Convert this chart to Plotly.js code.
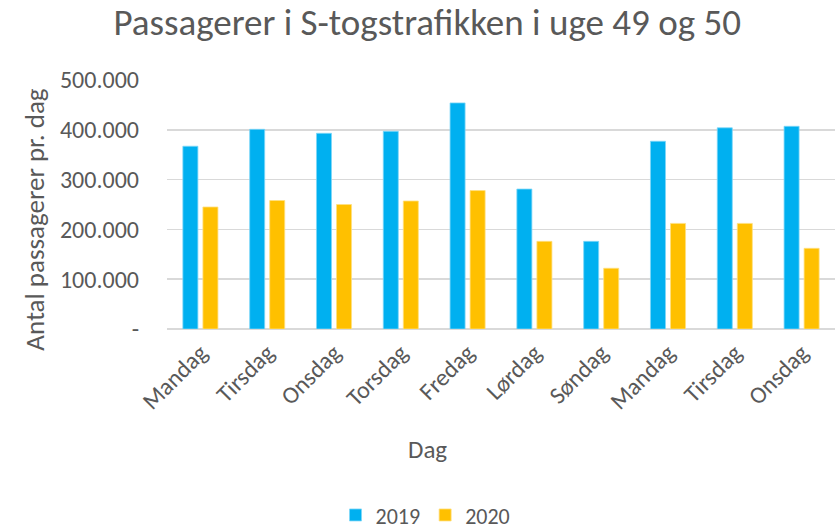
<!DOCTYPE html>
<html><head><meta charset="utf-8">
<script src="https://cdn.plot.ly/plotly-3.0.1.min.js"></script>
<style>html,body{margin:0;padding:0;background:#fff}#chart{width:836px;height:530px}</style>
</head><body><div id="chart"></div>
<script>
const days = ["Mandag","Tirsdag","Onsdag","Torsdag","Fredag","Lørdag","Søndag","Mandag","Tirsdag","Onsdag"];
const v2019 = [367000,401000,393000,397000,454000,281000,176000,377000,404000,407000];
const v2020 = [245000,258000,250000,257000,278000,176000,122000,212000,212000,162000];
const yTickVals = [0,100000,200000,300000,400000,500000];
const yTickText = ["-","100.000","200.000","300.000","400.000","500.000"];
const xIdx = days.map((d,i)=>i);
const font = "Carlito, Calibri, Lato, 'Liberation Sans', sans-serif";
const grey = "#595959";
const data = [
  {type:"bar", name:"2019", x:xIdx, y:v2019, marker:{color:"#00B0F0", line:{color:"#7FD7F7", width:0.8}}},
  {type:"bar", name:"2020", x:xIdx, y:v2020, marker:{color:"#FFC000", line:{color:"#FFDF80", width:0.8}}}
];
const layout = {
  width:836, height:530,
  margin:{l:167, r:1, t:80, b:201},
  paper_bgcolor:"#fff", plot_bgcolor:"#fff",
  font:{family:font, color:grey},
  title:{text:"Passagerer i S-togstrafikken i uge 49 og 50", font:{size:37, color:grey, family:font}, x:0.511, xanchor:"center", xref:"container", y:0.958, yref:"container", yanchor:"middle"},
  barmode:"group", bargap:0.4, bargroupgap:0.25,
  xaxis:{
    tickmode:"array", tickvals:xIdx, ticktext:days, tickangle:-45,
    tickfont:{size:24, color:grey}, range:[-0.5,9.5],
    showgrid:false, zeroline:false, showline:false, ticks:"", ticklabelstandoff:4
  },
  yaxis:{
    range:[0,500000], tickmode:"array", tickvals:yTickVals, ticktext:yTickText,
    tickfont:{size:24, color:grey}, gridcolor:"#D9D9D9", gridwidth:1.5,
    zeroline:true, zerolinecolor:"#D9D9D9", zerolinewidth:1.5, ticks:"", ticklabelstandoff:27
  },
  annotations:[
    {text:"Dag", xref:"paper", yref:"paper", x:0.39, xanchor:"center", y:-0.485, yanchor:"middle", showarrow:false, font:{size:25, color:grey}},
    {text:"Antal passagerer pr. dag", xref:"paper", yref:"paper", x:-0.198, xanchor:"center", y:0.442, yanchor:"middle", textangle:-90, showarrow:false, font:{size:27, color:grey}}
  ],
  legend:{orientation:"h", x:0.509, xanchor:"center", xref:"container", y:0.028, yref:"container", yanchor:"middle", font:{size:22, color:grey}, itemwidth:30, traceorder:"normal"},
  showlegend:true
};
Plotly.newPlot("chart", data, layout, {displayModeBar:false, staticPlot:true});
</script></body></html>
